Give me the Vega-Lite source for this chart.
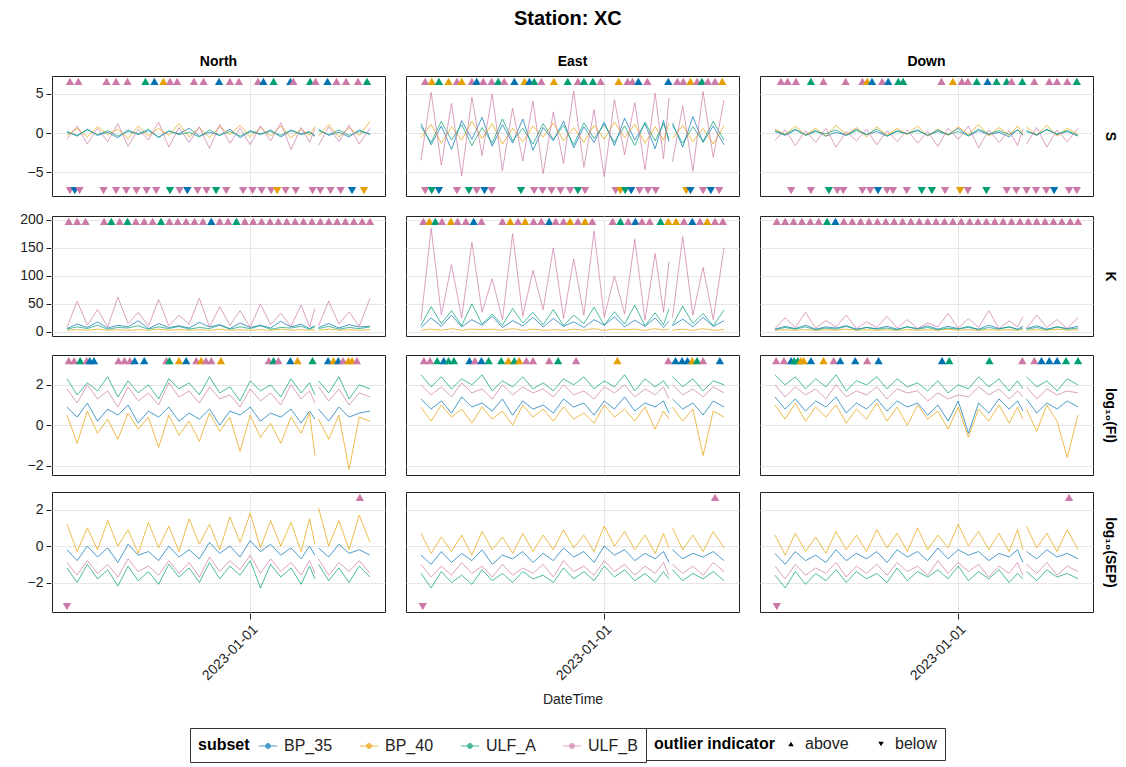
{
"$schema": "https://vega.github.io/schema/vega-lite/v6.json",
"padding": {"left": 19, "top": 9, "right": 6, "bottom": 1},
"title": {"text": "Station: XC", "fontSize": 20, "fontWeight": "bold", "anchor": "middle", "offset": 26, "color": "#000"},
"datasets": {
"S": [
{"c":"North","t":"2022-03-01","BP_35":0.2,"BP_40":-0.3,"ULF_A":0.1,"ULF_B":-0.8},
{"c":"North","t":"2022-03-18","BP_35":-0.4,"BP_40":0.6,"ULF_A":-0.3,"ULF_B":0.9},
{"c":"North","t":"2022-04-04","BP_35":0.5,"BP_40":-0.5,"ULF_A":0.4,"ULF_B":-1.4},
{"c":"North","t":"2022-04-21","BP_35":-0.3,"BP_40":0.8,"ULF_A":-0.2,"ULF_B":0.6},
{"c":"North","t":"2022-05-08","BP_35":0.1,"BP_40":-0.2,"ULF_A":0.3,"ULF_B":-1.1},
{"c":"North","t":"2022-05-25","BP_35":-0.6,"BP_40":0.5,"ULF_A":-0.4,"ULF_B":1.2},
{"c":"North","t":"2022-06-11","BP_35":0.4,"BP_40":-0.7,"ULF_A":0.2,"ULF_B":-1.7},
{"c":"North","t":"2022-06-28","BP_35":-0.2,"BP_40":0.9,"ULF_A":-0.1,"ULF_B":0.5},
{"c":"North","t":"2022-07-15","BP_35":0.3,"BP_40":-0.4,"ULF_A":0.5,"ULF_B":-0.9},
{"c":"North","t":"2022-08-01","BP_35":-0.5,"BP_40":0.6,"ULF_A":-0.6,"ULF_B":1.4},
{"c":"North","t":"2022-08-18","BP_35":0.2,"BP_40":-0.3,"ULF_A":0.3,"ULF_B":-1.8},
{"c":"North","t":"2022-09-04","BP_35":-0.1,"BP_40":1.2,"ULF_A":-0.2,"ULF_B":0.7},
{"c":"North","t":"2022-09-21","BP_35":0.6,"BP_40":-0.5,"ULF_A":0.1,"ULF_B":-1.2},
{"c":"North","t":"2022-10-08","BP_35":-0.4,"BP_40":0.7,"ULF_A":-0.5,"ULF_B":0.8},
{"c":"North","t":"2022-10-25","BP_35":0.1,"BP_40":-0.6,"ULF_A":0.4,"ULF_B":-2.0},
{"c":"North","t":"2022-11-11","BP_35":-0.3,"BP_40":0.8,"ULF_A":-0.3,"ULF_B":1.1},
{"c":"North","t":"2022-11-28","BP_35":0.5,"BP_40":-0.2,"ULF_A":0.2,"ULF_B":-1.3},
{"c":"North","t":"2022-12-15","BP_35":-0.6,"BP_40":1.0,"ULF_A":-0.4,"ULF_B":0.6},
{"c":"North","t":"2023-01-01","BP_35":0.2,"BP_40":-0.5,"ULF_A":0.3,"ULF_B":-1.5},
{"c":"North","t":"2023-01-18","BP_35":-0.2,"BP_40":0.7,"ULF_A":-0.1,"ULF_B":0.9},
{"c":"North","t":"2023-02-04","BP_35":0.4,"BP_40":-0.4,"ULF_A":0.2,"ULF_B":-1.0},
{"c":"North","t":"2023-02-21","BP_35":-0.5,"BP_40":0.9,"ULF_A":-0.3,"ULF_B":1.3},
{"c":"North","t":"2023-03-10","BP_35":0.3,"BP_40":-0.6,"ULF_A":0.4,"ULF_B":-2.1},
{"c":"North","t":"2023-03-27","BP_35":-0.1,"BP_40":0.5,"ULF_A":-0.2,"ULF_B":0.7},
{"c":"North","t":"2023-04-10","BP_35":0.2,"BP_40":-0.3,"ULF_A":0.1,"ULF_B":-1.2},
{"c":"North","t":"2023-04-19","BP_35":-0.4,"BP_40":0.8,"ULF_A":-0.4,"ULF_B":0.5},
{"c":"North","t":"2023-04-22","BP_35":null,"BP_40":null,"ULF_A":null,"ULF_B":null},
{"c":"North","t":"2023-04-25","BP_35":0.5,"BP_40":-0.4,"ULF_A":0.3,"ULF_B":-1.6},
{"c":"North","t":"2023-05-12","BP_35":-0.3,"BP_40":1.1,"ULF_A":-0.2,"ULF_B":0.8},
{"c":"North","t":"2023-05-29","BP_35":0.1,"BP_40":-0.5,"ULF_A":0.4,"ULF_B":-1.1},
{"c":"North","t":"2023-06-15","BP_35":-0.5,"BP_40":0.7,"ULF_A":-0.3,"ULF_B":1.0},
{"c":"North","t":"2023-07-02","BP_35":0.4,"BP_40":-0.3,"ULF_A":0.2,"ULF_B":-1.4},
{"c":"North","t":"2023-07-20","BP_35":-0.2,"BP_40":1.5,"ULF_A":-0.1,"ULF_B":0.6},
{"c":"East","t":"2022-03-01","BP_35":1.2,"BP_40":-0.6,"ULF_A":0.8,"ULF_B":-3.5},
{"c":"East","t":"2022-03-18","BP_35":-1.5,"BP_40":1.1,"ULF_A":-1.2,"ULF_B":5.2},
{"c":"East","t":"2022-04-04","BP_35":0.9,"BP_40":-1.3,"ULF_A":1.5,"ULF_B":-4.1},
{"c":"East","t":"2022-04-21","BP_35":-2.1,"BP_40":0.8,"ULF_A":-0.9,"ULF_B":3.8},
{"c":"East","t":"2022-05-08","BP_35":1.6,"BP_40":-0.9,"ULF_A":1.1,"ULF_B":-5.5},
{"c":"East","t":"2022-05-25","BP_35":-0.8,"BP_40":1.5,"ULF_A":-1.6,"ULF_B":4.6},
{"c":"East","t":"2022-06-11","BP_35":2.0,"BP_40":-0.7,"ULF_A":0.7,"ULF_B":-2.9},
{"c":"East","t":"2022-06-28","BP_35":-1.7,"BP_40":1.2,"ULF_A":-1.3,"ULF_B":5.0},
{"c":"East","t":"2022-07-15","BP_35":1.1,"BP_40":-1.4,"ULF_A":1.8,"ULF_B":-4.8},
{"c":"East","t":"2022-08-01","BP_35":-1.3,"BP_40":0.6,"ULF_A":-1.0,"ULF_B":3.2},
{"c":"East","t":"2022-08-18","BP_35":1.8,"BP_40":-1.1,"ULF_A":0.6,"ULF_B":-3.6},
{"c":"East","t":"2022-09-04","BP_35":-2.2,"BP_40":0.9,"ULF_A":-1.4,"ULF_B":4.1},
{"c":"East","t":"2022-09-21","BP_35":0.7,"BP_40":-0.5,"ULF_A":1.2,"ULF_B":-5.2},
{"c":"East","t":"2022-10-08","BP_35":-1.0,"BP_40":1.3,"ULF_A":-0.8,"ULF_B":2.7},
{"c":"East","t":"2022-10-25","BP_35":1.5,"BP_40":-1.0,"ULF_A":1.0,"ULF_B":-3.9},
{"c":"East","t":"2022-11-11","BP_35":-1.9,"BP_40":0.7,"ULF_A":-1.5,"ULF_B":5.4},
{"c":"East","t":"2022-11-28","BP_35":0.8,"BP_40":-1.2,"ULF_A":1.3,"ULF_B":-4.4},
{"c":"East","t":"2022-12-15","BP_35":-1.2,"BP_40":1.0,"ULF_A":-0.7,"ULF_B":3.0},
{"c":"East","t":"2023-01-01","BP_35":1.4,"BP_40":-0.8,"ULF_A":1.1,"ULF_B":-5.6},
{"c":"East","t":"2023-01-18","BP_35":-1.6,"BP_40":1.4,"ULF_A":-1.2,"ULF_B":4.3},
{"c":"East","t":"2023-02-04","BP_35":1.9,"BP_40":-0.6,"ULF_A":0.9,"ULF_B":-2.8},
{"c":"East","t":"2023-02-21","BP_35":-0.9,"BP_40":1.1,"ULF_A":-1.6,"ULF_B":3.9},
{"c":"East","t":"2023-03-10","BP_35":1.2,"BP_40":-1.3,"ULF_A":1.4,"ULF_B":-4.7},
{"c":"East","t":"2023-03-27","BP_35":-2.0,"BP_40":0.8,"ULF_A":-1.0,"ULF_B":5.1},
{"c":"East","t":"2023-04-10","BP_35":1.6,"BP_40":-0.9,"ULF_A":1.2,"ULF_B":-3.3},
{"c":"East","t":"2023-04-19","BP_35":-1.1,"BP_40":1.2,"ULF_A":-0.8,"ULF_B":4.5},
{"c":"East","t":"2023-04-22","BP_35":null,"BP_40":null,"ULF_A":null,"ULF_B":null},
{"c":"East","t":"2023-04-25","BP_35":1.3,"BP_40":-0.7,"ULF_A":1.0,"ULF_B":-3.7},
{"c":"East","t":"2023-05-12","BP_35":-1.8,"BP_40":1.0,"ULF_A":-1.3,"ULF_B":3.5},
{"c":"East","t":"2023-05-29","BP_35":2.1,"BP_40":-1.1,"ULF_A":0.8,"ULF_B":-4.9},
{"c":"East","t":"2023-06-15","BP_35":-1.2,"BP_40":0.6,"ULF_A":-1.1,"ULF_B":5.3},
{"c":"East","t":"2023-07-02","BP_35":0.9,"BP_40":-1.4,"ULF_A":1.5,"ULF_B":-3.1},
{"c":"East","t":"2023-07-20","BP_35":-1.5,"BP_40":0.9,"ULF_A":-0.9,"ULF_B":4.2},
{"c":"Down","t":"2022-03-01","BP_35":0.2,"BP_40":0.5,"ULF_A":0.3,"ULF_B":-0.9},
{"c":"Down","t":"2022-03-18","BP_35":-0.3,"BP_40":-0.2,"ULF_A":-0.2,"ULF_B":0.4},
{"c":"Down","t":"2022-04-04","BP_35":0.4,"BP_40":0.9,"ULF_A":0.5,"ULF_B":-1.6},
{"c":"Down","t":"2022-04-21","BP_35":-0.2,"BP_40":-0.3,"ULF_A":-0.3,"ULF_B":0.3},
{"c":"Down","t":"2022-05-08","BP_35":0.3,"BP_40":0.6,"ULF_A":0.2,"ULF_B":-1.2},
{"c":"Down","t":"2022-05-25","BP_35":-0.4,"BP_40":-0.4,"ULF_A":-0.1,"ULF_B":0.6},
{"c":"Down","t":"2022-06-11","BP_35":0.1,"BP_40":1.0,"ULF_A":0.4,"ULF_B":-1.8},
{"c":"Down","t":"2022-06-28","BP_35":-0.3,"BP_40":-0.2,"ULF_A":-0.3,"ULF_B":0.2},
{"c":"Down","t":"2022-07-15","BP_35":0.5,"BP_40":0.7,"ULF_A":0.3,"ULF_B":-1.0},
{"c":"Down","t":"2022-08-01","BP_35":-0.2,"BP_40":-0.5,"ULF_A":-0.2,"ULF_B":0.5},
{"c":"Down","t":"2022-08-18","BP_35":0.2,"BP_40":0.8,"ULF_A":0.5,"ULF_B":-1.5},
{"c":"Down","t":"2022-09-04","BP_35":-0.4,"BP_40":-0.3,"ULF_A":-0.4,"ULF_B":0.3},
{"c":"Down","t":"2022-09-21","BP_35":0.3,"BP_40":0.6,"ULF_A":0.2,"ULF_B":-1.1},
{"c":"Down","t":"2022-10-08","BP_35":-0.1,"BP_40":-0.2,"ULF_A":-0.1,"ULF_B":0.4},
{"c":"Down","t":"2022-10-25","BP_35":0.4,"BP_40":0.9,"ULF_A":0.3,"ULF_B":-1.3},
{"c":"Down","t":"2022-11-11","BP_35":-0.3,"BP_40":-0.4,"ULF_A":-0.3,"ULF_B":0.2},
{"c":"Down","t":"2022-11-28","BP_35":0.2,"BP_40":0.5,"ULF_A":0.4,"ULF_B":-1.7},
{"c":"Down","t":"2022-12-15","BP_35":-0.2,"BP_40":-0.3,"ULF_A":-0.2,"ULF_B":0.6},
{"c":"Down","t":"2023-01-01","BP_35":0.6,"BP_40":0.8,"ULF_A":0.2,"ULF_B":-0.8},
{"c":"Down","t":"2023-01-18","BP_35":-0.4,"BP_40":-0.2,"ULF_A":-0.3,"ULF_B":0.9},
{"c":"Down","t":"2023-02-04","BP_35":0.3,"BP_40":1.1,"ULF_A":0.5,"ULF_B":-1.9},
{"c":"Down","t":"2023-02-21","BP_35":-0.2,"BP_40":-0.4,"ULF_A":-0.1,"ULF_B":0.4},
{"c":"Down","t":"2023-03-10","BP_35":0.1,"BP_40":0.7,"ULF_A":0.3,"ULF_B":-1.2},
{"c":"Down","t":"2023-03-27","BP_35":-0.5,"BP_40":-0.3,"ULF_A":-0.2,"ULF_B":0.3},
{"c":"Down","t":"2023-04-10","BP_35":0.4,"BP_40":0.9,"ULF_A":0.4,"ULF_B":-1.6},
{"c":"Down","t":"2023-04-19","BP_35":-0.2,"BP_40":-0.2,"ULF_A":-0.3,"ULF_B":0.5},
{"c":"Down","t":"2023-04-22","BP_35":null,"BP_40":null,"ULF_A":null,"ULF_B":null},
{"c":"Down","t":"2023-04-25","BP_35":0.3,"BP_40":0.8,"ULF_A":0.2,"ULF_B":-1.4},
{"c":"Down","t":"2023-05-12","BP_35":-0.3,"BP_40":-0.3,"ULF_A":-0.2,"ULF_B":0.7},
{"c":"Down","t":"2023-05-29","BP_35":0.5,"BP_40":1.0,"ULF_A":0.4,"ULF_B":-1.8},
{"c":"Down","t":"2023-06-15","BP_35":-0.2,"BP_40":-0.4,"ULF_A":-0.1,"ULF_B":0.4},
{"c":"Down","t":"2023-07-02","BP_35":0.2,"BP_40":0.6,"ULF_A":0.3,"ULF_B":-1.1},
{"c":"Down","t":"2023-07-20","BP_35":-0.4,"BP_40":-0.2,"ULF_A":-0.3,"ULF_B":0.6},
{"c":"North","t":"2022-03-06","s":"ULF_B","o":"above"},
{"c":"North","t":"2022-03-20","s":"ULF_B","o":"above"},
{"c":"North","t":"2022-05-06","s":"ULF_B","o":"above"},
{"c":"North","t":"2022-05-22","s":"ULF_B","o":"above"},
{"c":"North","t":"2022-06-10","s":"ULF_B","o":"above"},
{"c":"North","t":"2022-07-10","s":"ULF_A","o":"above"},
{"c":"North","t":"2022-07-25","s":"BP_35","o":"above"},
{"c":"North","t":"2022-08-09","s":"BP_40","o":"above"},
{"c":"North","t":"2022-08-20","s":"ULF_B","o":"above"},
{"c":"North","t":"2022-09-01","s":"ULF_B","o":"above"},
{"c":"North","t":"2022-09-29","s":"ULF_B","o":"above"},
{"c":"North","t":"2022-10-15","s":"ULF_B","o":"above"},
{"c":"North","t":"2022-11-10","s":"BP_35","o":"above"},
{"c":"North","t":"2022-11-28","s":"ULF_B","o":"above"},
{"c":"North","t":"2022-12-13","s":"ULF_B","o":"above"},
{"c":"North","t":"2023-01-14","s":"ULF_B","o":"above"},
{"c":"North","t":"2023-01-23","s":"BP_35","o":"above"},
{"c":"North","t":"2023-02-09","s":"ULF_A","o":"above"},
{"c":"North","t":"2023-03-09","s":"BP_35","o":"above"},
{"c":"North","t":"2023-03-14","s":"ULF_B","o":"above"},
{"c":"North","t":"2023-04-11","s":"ULF_A","o":"above"},
{"c":"North","t":"2023-04-20","s":"ULF_B","o":"above"},
{"c":"North","t":"2023-05-10","s":"BP_35","o":"above"},
{"c":"North","t":"2023-05-25","s":"ULF_B","o":"above"},
{"c":"North","t":"2023-06-10","s":"ULF_B","o":"above"},
{"c":"North","t":"2023-06-30","s":"ULF_B","o":"above"},
{"c":"North","t":"2023-07-15","s":"ULF_A","o":"above"},
{"c":"North","t":"2022-03-06","s":"ULF_B","o":"below"},
{"c":"North","t":"2022-03-14","s":"BP_35","o":"below"},
{"c":"North","t":"2022-03-22","s":"ULF_B","o":"below"},
{"c":"North","t":"2022-05-01","s":"ULF_B","o":"below"},
{"c":"North","t":"2022-05-22","s":"ULF_B","o":"below"},
{"c":"North","t":"2022-06-08","s":"ULF_B","o":"below"},
{"c":"North","t":"2022-06-25","s":"ULF_B","o":"below"},
{"c":"North","t":"2022-07-12","s":"ULF_B","o":"below"},
{"c":"North","t":"2022-07-28","s":"ULF_B","o":"below"},
{"c":"North","t":"2022-08-20","s":"ULF_A","o":"below"},
{"c":"North","t":"2022-09-05","s":"ULF_B","o":"below"},
{"c":"North","t":"2022-09-18","s":"BP_35","o":"below"},
{"c":"North","t":"2022-10-05","s":"ULF_B","o":"below"},
{"c":"North","t":"2022-10-20","s":"ULF_B","o":"below"},
{"c":"North","t":"2022-11-05","s":"ULF_A","o":"below"},
{"c":"North","t":"2022-11-22","s":"ULF_B","o":"below"},
{"c":"North","t":"2022-12-20","s":"ULF_B","o":"below"},
{"c":"North","t":"2023-01-05","s":"ULF_B","o":"below"},
{"c":"North","t":"2023-01-20","s":"ULF_B","o":"below"},
{"c":"North","t":"2023-02-05","s":"ULF_B","o":"below"},
{"c":"North","t":"2023-02-15","s":"BP_40","o":"below"},
{"c":"North","t":"2023-03-01","s":"ULF_B","o":"below"},
{"c":"North","t":"2023-03-18","s":"ULF_B","o":"below"},
{"c":"North","t":"2023-04-15","s":"ULF_B","o":"below"},
{"c":"North","t":"2023-04-28","s":"ULF_B","o":"below"},
{"c":"North","t":"2023-05-15","s":"ULF_B","o":"below"},
{"c":"North","t":"2023-06-01","s":"ULF_B","o":"below"},
{"c":"North","t":"2023-06-20","s":"BP_35","o":"below"},
{"c":"North","t":"2023-07-10","s":"BP_40","o":"below"},
{"c":"East","t":"2022-03-08","s":"ULF_B","o":"above"},
{"c":"East","t":"2022-03-19","s":"BP_40","o":"above"},
{"c":"East","t":"2022-03-31","s":"ULF_A","o":"above"},
{"c":"East","t":"2022-04-16","s":"BP_40","o":"above"},
{"c":"East","t":"2022-04-30","s":"ULF_B","o":"above"},
{"c":"East","t":"2022-05-08","s":"BP_40","o":"above"},
{"c":"East","t":"2022-05-25","s":"ULF_B","o":"above"},
{"c":"East","t":"2022-06-02","s":"BP_35","o":"above"},
{"c":"East","t":"2022-06-13","s":"ULF_B","o":"above"},
{"c":"East","t":"2022-06-27","s":"ULF_B","o":"above"},
{"c":"East","t":"2022-07-08","s":"ULF_A","o":"above"},
{"c":"East","t":"2022-07-18","s":"ULF_B","o":"above"},
{"c":"East","t":"2022-08-04","s":"BP_35","o":"above"},
{"c":"East","t":"2022-08-21","s":"BP_40","o":"above"},
{"c":"East","t":"2022-08-29","s":"BP_35","o":"above"},
{"c":"East","t":"2022-09-06","s":"ULF_A","o":"above"},
{"c":"East","t":"2022-09-18","s":"ULF_B","o":"above"},
{"c":"East","t":"2022-10-09","s":"BP_40","o":"above"},
{"c":"East","t":"2022-11-01","s":"ULF_A","o":"above"},
{"c":"East","t":"2022-11-18","s":"ULF_B","o":"above"},
{"c":"East","t":"2022-11-28","s":"ULF_A","o":"above"},
{"c":"East","t":"2022-12-13","s":"ULF_A","o":"above"},
{"c":"East","t":"2022-12-26","s":"ULF_B","o":"above"},
{"c":"East","t":"2023-01-25","s":"BP_40","o":"above"},
{"c":"East","t":"2023-02-09","s":"ULF_B","o":"above"},
{"c":"East","t":"2023-02-17","s":"ULF_B","o":"above"},
{"c":"East","t":"2023-02-27","s":"BP_35","o":"above"},
{"c":"East","t":"2023-03-14","s":"ULF_B","o":"above"},
{"c":"East","t":"2023-04-18","s":"BP_35","o":"above"},
{"c":"East","t":"2023-05-03","s":"ULF_B","o":"above"},
{"c":"East","t":"2023-05-13","s":"ULF_B","o":"above"},
{"c":"East","t":"2023-05-25","s":"BP_40","o":"above"},
{"c":"East","t":"2023-06-05","s":"ULF_B","o":"above"},
{"c":"East","t":"2023-06-13","s":"ULF_A","o":"above"},
{"c":"East","t":"2023-06-23","s":"ULF_B","o":"above"},
{"c":"East","t":"2023-07-05","s":"ULF_B","o":"above"},
{"c":"East","t":"2023-07-17","s":"BP_40","o":"above"},
{"c":"East","t":"2022-03-08","s":"ULF_B","o":"below"},
{"c":"East","t":"2022-03-19","s":"ULF_A","o":"below"},
{"c":"East","t":"2022-03-31","s":"BP_35","o":"below"},
{"c":"East","t":"2022-04-30","s":"ULF_B","o":"below"},
{"c":"East","t":"2022-05-20","s":"ULF_A","o":"below"},
{"c":"East","t":"2022-06-02","s":"ULF_B","o":"below"},
{"c":"East","t":"2022-06-15","s":"BP_35","o":"below"},
{"c":"East","t":"2022-06-27","s":"ULF_B","o":"below"},
{"c":"East","t":"2022-08-15","s":"ULF_A","o":"below"},
{"c":"East","t":"2022-09-06","s":"ULF_B","o":"below"},
{"c":"East","t":"2022-09-20","s":"ULF_B","o":"below"},
{"c":"East","t":"2022-10-05","s":"ULF_B","o":"below"},
{"c":"East","t":"2022-10-20","s":"ULF_B","o":"below"},
{"c":"East","t":"2022-11-05","s":"ULF_B","o":"below"},
{"c":"East","t":"2022-11-18","s":"ULF_A","o":"below"},
{"c":"East","t":"2022-11-30","s":"ULF_B","o":"below"},
{"c":"East","t":"2023-01-20","s":"ULF_B","o":"below"},
{"c":"East","t":"2023-01-28","s":"BP_40","o":"below"},
{"c":"East","t":"2023-02-05","s":"ULF_A","o":"below"},
{"c":"East","t":"2023-02-15","s":"BP_35","o":"below"},
{"c":"East","t":"2023-03-01","s":"ULF_B","o":"below"},
{"c":"East","t":"2023-03-15","s":"ULF_B","o":"below"},
{"c":"East","t":"2023-03-28","s":"ULF_B","o":"below"},
{"c":"East","t":"2023-05-18","s":"BP_40","o":"below"},
{"c":"East","t":"2023-05-25","s":"BP_35","o":"below"},
{"c":"East","t":"2023-06-15","s":"ULF_B","o":"below"},
{"c":"East","t":"2023-06-28","s":"BP_35","o":"below"},
{"c":"East","t":"2023-07-12","s":"ULF_B","o":"below"},
{"c":"Down","t":"2022-03-11","s":"ULF_B","o":"above"},
{"c":"Down","t":"2022-03-22","s":"ULF_B","o":"above"},
{"c":"Down","t":"2022-04-05","s":"ULF_B","o":"above"},
{"c":"Down","t":"2022-04-30","s":"ULF_A","o":"above"},
{"c":"Down","t":"2022-05-21","s":"ULF_B","o":"above"},
{"c":"Down","t":"2022-06-27","s":"ULF_B","o":"above"},
{"c":"Down","t":"2022-07-25","s":"ULF_B","o":"above"},
{"c":"Down","t":"2022-08-02","s":"BP_40","o":"above"},
{"c":"Down","t":"2022-08-10","s":"BP_35","o":"above"},
{"c":"Down","t":"2022-08-27","s":"ULF_B","o":"above"},
{"c":"Down","t":"2022-09-06","s":"BP_35","o":"above"},
{"c":"Down","t":"2022-09-23","s":"ULF_A","o":"above"},
{"c":"Down","t":"2022-10-01","s":"ULF_A","o":"above"},
{"c":"Down","t":"2022-12-04","s":"ULF_B","o":"above"},
{"c":"Down","t":"2022-12-23","s":"BP_40","o":"above"},
{"c":"Down","t":"2023-01-07","s":"ULF_B","o":"above"},
{"c":"Down","t":"2023-01-17","s":"ULF_B","o":"above"},
{"c":"Down","t":"2023-02-01","s":"ULF_A","o":"above"},
{"c":"Down","t":"2023-02-19","s":"BP_35","o":"above"},
{"c":"Down","t":"2023-03-06","s":"ULF_A","o":"above"},
{"c":"Down","t":"2023-03-23","s":"ULF_A","o":"above"},
{"c":"Down","t":"2023-03-31","s":"ULF_B","o":"above"},
{"c":"Down","t":"2023-04-18","s":"ULF_A","o":"above"},
{"c":"Down","t":"2023-05-08","s":"ULF_B","o":"above"},
{"c":"Down","t":"2023-06-02","s":"ULF_B","o":"above"},
{"c":"Down","t":"2023-06-15","s":"ULF_B","o":"above"},
{"c":"Down","t":"2023-07-02","s":"ULF_B","o":"above"},
{"c":"Down","t":"2023-07-18","s":"ULF_A","o":"above"},
{"c":"Down","t":"2022-03-28","s":"ULF_B","o":"below"},
{"c":"Down","t":"2022-04-30","s":"ULF_B","o":"below"},
{"c":"Down","t":"2022-05-30","s":"ULF_A","o":"below"},
{"c":"Down","t":"2022-06-13","s":"ULF_B","o":"below"},
{"c":"Down","t":"2022-06-23","s":"ULF_B","o":"below"},
{"c":"Down","t":"2022-07-25","s":"ULF_B","o":"below"},
{"c":"Down","t":"2022-08-07","s":"ULF_B","o":"below"},
{"c":"Down","t":"2022-08-20","s":"BP_35","o":"below"},
{"c":"Down","t":"2022-09-04","s":"ULF_B","o":"below"},
{"c":"Down","t":"2022-09-14","s":"ULF_B","o":"below"},
{"c":"Down","t":"2022-10-07","s":"ULF_B","o":"below"},
{"c":"Down","t":"2022-11-01","s":"ULF_A","o":"below"},
{"c":"Down","t":"2022-11-18","s":"ULF_A","o":"below"},
{"c":"Down","t":"2022-12-10","s":"ULF_B","o":"below"},
{"c":"Down","t":"2023-01-04","s":"BP_40","o":"below"},
{"c":"Down","t":"2023-01-17","s":"ULF_B","o":"below"},
{"c":"Down","t":"2023-02-17","s":"ULF_A","o":"below"},
{"c":"Down","t":"2023-03-23","s":"ULF_B","o":"below"},
{"c":"Down","t":"2023-04-08","s":"ULF_B","o":"below"},
{"c":"Down","t":"2023-04-25","s":"ULF_B","o":"below"},
{"c":"Down","t":"2023-05-11","s":"ULF_B","o":"below"},
{"c":"Down","t":"2023-05-28","s":"ULF_B","o":"below"},
{"c":"Down","t":"2023-06-10","s":"BP_35","o":"below"},
{"c":"Down","t":"2023-07-05","s":"ULF_B","o":"below"},
{"c":"Down","t":"2023-07-18","s":"ULF_B","o":"below"}
],
"K": [
{"c":"North","t":"2022-03-01","BP_35":6,"BP_40":3,"ULF_A":5,"ULF_B":8},
{"c":"North","t":"2022-03-18","BP_35":14,"BP_40":4,"ULF_A":9,"ULF_B":55},
{"c":"North","t":"2022-04-04","BP_35":8,"BP_40":3,"ULF_A":6,"ULF_B":12},
{"c":"North","t":"2022-04-21","BP_35":18,"BP_40":5,"ULF_A":12,"ULF_B":40},
{"c":"North","t":"2022-05-08","BP_35":7,"BP_40":3,"ULF_A":5,"ULF_B":9},
{"c":"North","t":"2022-05-25","BP_35":12,"BP_40":4,"ULF_A":8,"ULF_B":62},
{"c":"North","t":"2022-06-11","BP_35":9,"BP_40":3,"ULF_A":7,"ULF_B":15},
{"c":"North","t":"2022-06-28","BP_35":20,"BP_40":4,"ULF_A":11,"ULF_B":35},
{"c":"North","t":"2022-07-15","BP_35":6,"BP_40":3,"ULF_A":5,"ULF_B":10},
{"c":"North","t":"2022-08-01","BP_35":15,"BP_40":5,"ULF_A":9,"ULF_B":58},
{"c":"North","t":"2022-08-18","BP_35":8,"BP_40":3,"ULF_A":6,"ULF_B":11},
{"c":"North","t":"2022-09-04","BP_35":11,"BP_40":4,"ULF_A":10,"ULF_B":30},
{"c":"North","t":"2022-09-21","BP_35":7,"BP_40":3,"ULF_A":5,"ULF_B":14},
{"c":"North","t":"2022-10-08","BP_35":17,"BP_40":4,"ULF_A":8,"ULF_B":60},
{"c":"North","t":"2022-10-25","BP_35":9,"BP_40":3,"ULF_A":6,"ULF_B":9},
{"c":"North","t":"2022-11-11","BP_35":13,"BP_40":5,"ULF_A":12,"ULF_B":45},
{"c":"North","t":"2022-11-28","BP_35":6,"BP_40":3,"ULF_A":5,"ULF_B":12},
{"c":"North","t":"2022-12-15","BP_35":16,"BP_40":4,"ULF_A":9,"ULF_B":38},
{"c":"North","t":"2023-01-01","BP_35":8,"BP_40":3,"ULF_A":6,"ULF_B":8},
{"c":"North","t":"2023-01-18","BP_35":12,"BP_40":4,"ULF_A":11,"ULF_B":50},
{"c":"North","t":"2023-02-04","BP_35":7,"BP_40":3,"ULF_A":5,"ULF_B":13},
{"c":"North","t":"2023-02-21","BP_35":19,"BP_40":5,"ULF_A":8,"ULF_B":33},
{"c":"North","t":"2023-03-10","BP_35":9,"BP_40":3,"ULF_A":7,"ULF_B":10},
{"c":"North","t":"2023-03-27","BP_35":14,"BP_40":4,"ULF_A":10,"ULF_B":48},
{"c":"North","t":"2023-04-10","BP_35":6,"BP_40":3,"ULF_A":5,"ULF_B":9},
{"c":"North","t":"2023-04-19","BP_35":11,"BP_40":4,"ULF_A":9,"ULF_B":42},
{"c":"North","t":"2023-04-22","BP_35":null,"BP_40":null,"ULF_A":null,"ULF_B":null},
{"c":"North","t":"2023-04-25","BP_35":8,"BP_40":3,"ULF_A":6,"ULF_B":11},
{"c":"North","t":"2023-05-12","BP_35":15,"BP_40":5,"ULF_A":10,"ULF_B":55},
{"c":"North","t":"2023-05-29","BP_35":7,"BP_40":3,"ULF_A":5,"ULF_B":14},
{"c":"North","t":"2023-06-15","BP_35":13,"BP_40":4,"ULF_A":8,"ULF_B":36},
{"c":"North","t":"2023-07-02","BP_35":9,"BP_40":3,"ULF_A":6,"ULF_B":10},
{"c":"North","t":"2023-07-20","BP_35":10,"BP_40":4,"ULF_A":9,"ULF_B":60},
{"c":"East","t":"2022-03-01","BP_35":8,"BP_40":3,"ULF_A":12,"ULF_B":20},
{"c":"East","t":"2022-03-18","BP_35":25,"BP_40":5,"ULF_A":45,"ULF_B":185},
{"c":"East","t":"2022-04-04","BP_35":10,"BP_40":3,"ULF_A":15,"ULF_B":30},
{"c":"East","t":"2022-04-21","BP_35":30,"BP_40":6,"ULF_A":38,"ULF_B":120},
{"c":"East","t":"2022-05-08","BP_35":9,"BP_40":3,"ULF_A":11,"ULF_B":25},
{"c":"East","t":"2022-05-25","BP_35":22,"BP_40":5,"ULF_A":50,"ULF_B":160},
{"c":"East","t":"2022-06-11","BP_35":12,"BP_40":4,"ULF_A":14,"ULF_B":35},
{"c":"East","t":"2022-06-28","BP_35":28,"BP_40":5,"ULF_A":32,"ULF_B":95},
{"c":"East","t":"2022-07-15","BP_35":8,"BP_40":3,"ULF_A":12,"ULF_B":22},
{"c":"East","t":"2022-08-01","BP_35":20,"BP_40":6,"ULF_A":42,"ULF_B":175},
{"c":"East","t":"2022-08-18","BP_35":11,"BP_40":3,"ULF_A":16,"ULF_B":28},
{"c":"East","t":"2022-09-04","BP_35":26,"BP_40":5,"ULF_A":35,"ULF_B":110},
{"c":"East","t":"2022-09-21","BP_35":9,"BP_40":3,"ULF_A":13,"ULF_B":40},
{"c":"East","t":"2022-10-08","BP_35":24,"BP_40":4,"ULF_A":40,"ULF_B":150},
{"c":"East","t":"2022-10-25","BP_35":10,"BP_40":3,"ULF_A":11,"ULF_B":24},
{"c":"East","t":"2022-11-11","BP_35":18,"BP_40":5,"ULF_A":30,"ULF_B":130},
{"c":"East","t":"2022-11-28","BP_35":8,"BP_40":3,"ULF_A":15,"ULF_B":30},
{"c":"East","t":"2022-12-15","BP_35":22,"BP_40":6,"ULF_A":44,"ULF_B":180},
{"c":"East","t":"2023-01-01","BP_35":12,"BP_40":3,"ULF_A":12,"ULF_B":26},
{"c":"East","t":"2023-01-18","BP_35":27,"BP_40":5,"ULF_A":36,"ULF_B":100},
{"c":"East","t":"2023-02-04","BP_35":9,"BP_40":4,"ULF_A":14,"ULF_B":32},
{"c":"East","t":"2023-02-21","BP_35":21,"BP_40":5,"ULF_A":48,"ULF_B":165},
{"c":"East","t":"2023-03-10","BP_35":10,"BP_40":3,"ULF_A":11,"ULF_B":21},
{"c":"East","t":"2023-03-27","BP_35":25,"BP_40":6,"ULF_A":34,"ULF_B":140},
{"c":"East","t":"2023-04-10","BP_35":8,"BP_40":3,"ULF_A":13,"ULF_B":35},
{"c":"East","t":"2023-04-19","BP_35":19,"BP_40":5,"ULF_A":41,"ULF_B":125},
{"c":"East","t":"2023-04-22","BP_35":null,"BP_40":null,"ULF_A":null,"ULF_B":null},
{"c":"East","t":"2023-04-25","BP_35":11,"BP_40":3,"ULF_A":12,"ULF_B":25},
{"c":"East","t":"2023-05-12","BP_35":23,"BP_40":5,"ULF_A":46,"ULF_B":170},
{"c":"East","t":"2023-05-29","BP_35":9,"BP_40":3,"ULF_A":15,"ULF_B":30},
{"c":"East","t":"2023-06-15","BP_35":26,"BP_40":6,"ULF_A":33,"ULF_B":115},
{"c":"East","t":"2023-07-02","BP_35":10,"BP_40":3,"ULF_A":11,"ULF_B":22},
{"c":"East","t":"2023-07-20","BP_35":20,"BP_40":4,"ULF_A":39,"ULF_B":150},
{"c":"Down","t":"2022-03-01","BP_35":5,"BP_40":3,"ULF_A":4,"ULF_B":6},
{"c":"Down","t":"2022-03-18","BP_35":10,"BP_40":4,"ULF_A":8,"ULF_B":25},
{"c":"Down","t":"2022-04-04","BP_35":6,"BP_40":3,"ULF_A":5,"ULF_B":8},
{"c":"Down","t":"2022-04-21","BP_35":12,"BP_40":4,"ULF_A":9,"ULF_B":35},
{"c":"Down","t":"2022-05-08","BP_35":5,"BP_40":3,"ULF_A":4,"ULF_B":7},
{"c":"Down","t":"2022-05-25","BP_35":9,"BP_40":4,"ULF_A":7,"ULF_B":20},
{"c":"Down","t":"2022-06-11","BP_35":7,"BP_40":3,"ULF_A":5,"ULF_B":9},
{"c":"Down","t":"2022-06-28","BP_35":11,"BP_40":5,"ULF_A":10,"ULF_B":30},
{"c":"Down","t":"2022-07-15","BP_35":5,"BP_40":3,"ULF_A":4,"ULF_B":6},
{"c":"Down","t":"2022-08-01","BP_35":8,"BP_40":4,"ULF_A":8,"ULF_B":18},
{"c":"Down","t":"2022-08-18","BP_35":6,"BP_40":3,"ULF_A":5,"ULF_B":8},
{"c":"Down","t":"2022-09-04","BP_35":10,"BP_40":4,"ULF_A":7,"ULF_B":28},
{"c":"Down","t":"2022-09-21","BP_35":5,"BP_40":3,"ULF_A":4,"ULF_B":7},
{"c":"Down","t":"2022-10-08","BP_35":9,"BP_40":4,"ULF_A":9,"ULF_B":22},
{"c":"Down","t":"2022-10-25","BP_35":6,"BP_40":3,"ULF_A":5,"ULF_B":6},
{"c":"Down","t":"2022-11-11","BP_35":11,"BP_40":4,"ULF_A":8,"ULF_B":16},
{"c":"Down","t":"2022-11-28","BP_35":5,"BP_40":3,"ULF_A":4,"ULF_B":9},
{"c":"Down","t":"2022-12-15","BP_35":10,"BP_40":5,"ULF_A":7,"ULF_B":33},
{"c":"Down","t":"2023-01-01","BP_35":6,"BP_40":3,"ULF_A":5,"ULF_B":7},
{"c":"Down","t":"2023-01-18","BP_35":8,"BP_40":4,"ULF_A":10,"ULF_B":24},
{"c":"Down","t":"2023-02-04","BP_35":5,"BP_40":3,"ULF_A":4,"ULF_B":8},
{"c":"Down","t":"2023-02-21","BP_35":12,"BP_40":4,"ULF_A":8,"ULF_B":38},
{"c":"Down","t":"2023-03-10","BP_35":6,"BP_40":3,"ULF_A":5,"ULF_B":6},
{"c":"Down","t":"2023-03-27","BP_35":9,"BP_40":4,"ULF_A":9,"ULF_B":20},
{"c":"Down","t":"2023-04-10","BP_35":5,"BP_40":3,"ULF_A":4,"ULF_B":9},
{"c":"Down","t":"2023-04-19","BP_35":10,"BP_40":4,"ULF_A":7,"ULF_B":27},
{"c":"Down","t":"2023-04-22","BP_35":null,"BP_40":null,"ULF_A":null,"ULF_B":null},
{"c":"Down","t":"2023-04-25","BP_35":6,"BP_40":3,"ULF_A":5,"ULF_B":7},
{"c":"Down","t":"2023-05-12","BP_35":11,"BP_40":4,"ULF_A":8,"ULF_B":30},
{"c":"Down","t":"2023-05-29","BP_35":5,"BP_40":3,"ULF_A":4,"ULF_B":8},
{"c":"Down","t":"2023-06-15","BP_35":9,"BP_40":5,"ULF_A":9,"ULF_B":22},
{"c":"Down","t":"2023-07-02","BP_35":6,"BP_40":3,"ULF_A":5,"ULF_B":6},
{"c":"Down","t":"2023-07-20","BP_35":10,"BP_40":4,"ULF_A":7,"ULF_B":26},
{"c":"North","t":"2022-03-04","s":"ULF_B","o":"above"},
{"c":"North","t":"2022-03-18","s":"ULF_B","o":"above"},
{"c":"North","t":"2022-04-01","s":"ULF_B","o":"above"},
{"c":"North","t":"2022-05-02","s":"ULF_B","o":"above"},
{"c":"North","t":"2022-05-14","s":"ULF_A","o":"above"},
{"c":"North","t":"2022-05-28","s":"ULF_B","o":"above"},
{"c":"North","t":"2022-06-10","s":"ULF_A","o":"above"},
{"c":"North","t":"2022-06-24","s":"ULF_B","o":"above"},
{"c":"North","t":"2022-07-08","s":"ULF_B","o":"above"},
{"c":"North","t":"2022-07-22","s":"ULF_B","o":"above"},
{"c":"North","t":"2022-08-05","s":"ULF_A","o":"above"},
{"c":"North","t":"2022-08-19","s":"ULF_B","o":"above"},
{"c":"North","t":"2022-09-02","s":"ULF_B","o":"above"},
{"c":"North","t":"2022-09-16","s":"ULF_B","o":"above"},
{"c":"North","t":"2022-09-30","s":"ULF_B","o":"above"},
{"c":"North","t":"2022-10-14","s":"ULF_B","o":"above"},
{"c":"North","t":"2022-10-28","s":"BP_35","o":"above"},
{"c":"North","t":"2022-11-11","s":"ULF_B","o":"above"},
{"c":"North","t":"2022-11-25","s":"ULF_B","o":"above"},
{"c":"North","t":"2022-12-09","s":"ULF_A","o":"above"},
{"c":"North","t":"2022-12-23","s":"ULF_B","o":"above"},
{"c":"North","t":"2023-01-06","s":"ULF_B","o":"above"},
{"c":"North","t":"2023-01-20","s":"ULF_B","o":"above"},
{"c":"North","t":"2023-02-03","s":"ULF_B","o":"above"},
{"c":"North","t":"2023-02-17","s":"ULF_B","o":"above"},
{"c":"North","t":"2023-03-03","s":"ULF_B","o":"above"},
{"c":"North","t":"2023-03-17","s":"ULF_B","o":"above"},
{"c":"North","t":"2023-03-31","s":"ULF_B","o":"above"},
{"c":"North","t":"2023-04-14","s":"ULF_B","o":"above"},
{"c":"North","t":"2023-04-28","s":"ULF_B","o":"above"},
{"c":"North","t":"2023-05-12","s":"ULF_B","o":"above"},
{"c":"North","t":"2023-05-26","s":"ULF_B","o":"above"},
{"c":"North","t":"2023-06-09","s":"ULF_B","o":"above"},
{"c":"North","t":"2023-06-23","s":"ULF_B","o":"above"},
{"c":"North","t":"2023-07-07","s":"ULF_B","o":"above"},
{"c":"North","t":"2023-07-20","s":"ULF_B","o":"above"},
{"c":"East","t":"2022-03-05","s":"ULF_B","o":"above"},
{"c":"East","t":"2022-03-15","s":"BP_40","o":"above"},
{"c":"East","t":"2022-03-25","s":"ULF_A","o":"above"},
{"c":"East","t":"2022-04-05","s":"ULF_B","o":"above"},
{"c":"East","t":"2022-04-20","s":"BP_40","o":"above"},
{"c":"East","t":"2022-05-01","s":"ULF_B","o":"above"},
{"c":"East","t":"2022-05-15","s":"ULF_B","o":"above"},
{"c":"East","t":"2022-05-28","s":"BP_35","o":"above"},
{"c":"East","t":"2022-06-10","s":"ULF_B","o":"above"},
{"c":"East","t":"2022-07-15","s":"ULF_B","o":"above"},
{"c":"East","t":"2022-07-28","s":"BP_40","o":"above"},
{"c":"East","t":"2022-08-10","s":"ULF_B","o":"above"},
{"c":"East","t":"2022-08-22","s":"BP_40","o":"above"},
{"c":"East","t":"2022-09-05","s":"ULF_B","o":"above"},
{"c":"East","t":"2022-09-18","s":"ULF_B","o":"above"},
{"c":"East","t":"2022-10-01","s":"BP_35","o":"above"},
{"c":"East","t":"2022-10-12","s":"ULF_B","o":"above"},
{"c":"East","t":"2022-10-25","s":"ULF_B","o":"above"},
{"c":"East","t":"2022-11-05","s":"BP_40","o":"above"},
{"c":"East","t":"2022-11-18","s":"ULF_B","o":"above"},
{"c":"East","t":"2022-11-30","s":"BP_40","o":"above"},
{"c":"East","t":"2022-12-12","s":"ULF_B","o":"above"},
{"c":"East","t":"2023-01-15","s":"ULF_B","o":"above"},
{"c":"East","t":"2023-01-28","s":"ULF_A","o":"above"},
{"c":"East","t":"2023-02-10","s":"ULF_B","o":"above"},
{"c":"East","t":"2023-02-22","s":"BP_35","o":"above"},
{"c":"East","t":"2023-03-05","s":"ULF_B","o":"above"},
{"c":"East","t":"2023-03-18","s":"ULF_B","o":"above"},
{"c":"East","t":"2023-04-05","s":"ULF_A","o":"above"},
{"c":"East","t":"2023-04-18","s":"BP_40","o":"above"},
{"c":"East","t":"2023-05-01","s":"BP_40","o":"above"},
{"c":"East","t":"2023-05-14","s":"ULF_B","o":"above"},
{"c":"East","t":"2023-05-28","s":"BP_35","o":"above"},
{"c":"East","t":"2023-06-10","s":"ULF_B","o":"above"},
{"c":"East","t":"2023-06-22","s":"BP_40","o":"above"},
{"c":"East","t":"2023-07-05","s":"ULF_B","o":"above"},
{"c":"East","t":"2023-07-18","s":"ULF_B","o":"above"},
{"c":"Down","t":"2022-03-04","s":"ULF_B","o":"above"},
{"c":"Down","t":"2022-03-18","s":"ULF_B","o":"above"},
{"c":"Down","t":"2022-04-01","s":"ULF_B","o":"above"},
{"c":"Down","t":"2022-04-15","s":"ULF_B","o":"above"},
{"c":"Down","t":"2022-04-29","s":"ULF_B","o":"above"},
{"c":"Down","t":"2022-05-13","s":"ULF_B","o":"above"},
{"c":"Down","t":"2022-05-27","s":"ULF_A","o":"above"},
{"c":"Down","t":"2022-06-10","s":"BP_35","o":"above"},
{"c":"Down","t":"2022-06-24","s":"ULF_B","o":"above"},
{"c":"Down","t":"2022-07-08","s":"ULF_B","o":"above"},
{"c":"Down","t":"2022-07-22","s":"ULF_B","o":"above"},
{"c":"Down","t":"2022-08-05","s":"ULF_B","o":"above"},
{"c":"Down","t":"2022-08-19","s":"ULF_B","o":"above"},
{"c":"Down","t":"2022-09-02","s":"ULF_B","o":"above"},
{"c":"Down","t":"2022-09-16","s":"ULF_B","o":"above"},
{"c":"Down","t":"2022-09-30","s":"ULF_B","o":"above"},
{"c":"Down","t":"2022-10-14","s":"ULF_B","o":"above"},
{"c":"Down","t":"2022-10-28","s":"ULF_B","o":"above"},
{"c":"Down","t":"2022-11-11","s":"ULF_B","o":"above"},
{"c":"Down","t":"2022-11-25","s":"ULF_B","o":"above"},
{"c":"Down","t":"2022-12-09","s":"ULF_B","o":"above"},
{"c":"Down","t":"2022-12-23","s":"ULF_B","o":"above"},
{"c":"Down","t":"2023-01-06","s":"ULF_B","o":"above"},
{"c":"Down","t":"2023-01-20","s":"ULF_B","o":"above"},
{"c":"Down","t":"2023-02-03","s":"ULF_B","o":"above"},
{"c":"Down","t":"2023-02-17","s":"ULF_B","o":"above"},
{"c":"Down","t":"2023-03-03","s":"ULF_B","o":"above"},
{"c":"Down","t":"2023-03-17","s":"ULF_B","o":"above"},
{"c":"Down","t":"2023-03-31","s":"ULF_B","o":"above"},
{"c":"Down","t":"2023-04-14","s":"ULF_B","o":"above"},
{"c":"Down","t":"2023-04-28","s":"ULF_B","o":"above"},
{"c":"Down","t":"2023-05-12","s":"ULF_B","o":"above"},
{"c":"Down","t":"2023-05-26","s":"ULF_B","o":"above"},
{"c":"Down","t":"2023-06-09","s":"ULF_B","o":"above"},
{"c":"Down","t":"2023-06-23","s":"ULF_B","o":"above"},
{"c":"Down","t":"2023-07-07","s":"ULF_B","o":"above"},
{"c":"Down","t":"2023-07-20","s":"ULF_B","o":"above"}
],
"FI": [
{"c":"North","t":"2022-03-01","BP_35":0.9,"BP_40":0.5,"ULF_A":2.3,"ULF_B":1.8},
{"c":"North","t":"2022-03-18","BP_35":0.4,"BP_40":-0.9,"ULF_A":1.5,"ULF_B":1.1},
{"c":"North","t":"2022-04-04","BP_35":1.1,"BP_40":0.7,"ULF_A":2.1,"ULF_B":2.0},
{"c":"North","t":"2022-04-21","BP_35":0.2,"BP_40":-0.4,"ULF_A":1.7,"ULF_B":1.3},
{"c":"North","t":"2022-05-08","BP_35":0.8,"BP_40":0.3,"ULF_A":2.4,"ULF_B":1.7},
{"c":"North","t":"2022-05-25","BP_35":0.5,"BP_40":-0.7,"ULF_A":1.4,"ULF_B":0.9},
{"c":"North","t":"2022-06-11","BP_35":1.0,"BP_40":0.6,"ULF_A":2.2,"ULF_B":1.9},
{"c":"North","t":"2022-06-28","BP_35":0.1,"BP_40":-0.2,"ULF_A":1.6,"ULF_B":1.2},
{"c":"North","t":"2022-07-15","BP_35":0.7,"BP_40":0.4,"ULF_A":2.0,"ULF_B":1.6},
{"c":"North","t":"2022-08-01","BP_35":0.4,"BP_40":-1.1,"ULF_A":1.3,"ULF_B":1.0},
{"c":"North","t":"2022-08-18","BP_35":0.9,"BP_40":0.5,"ULF_A":2.3,"ULF_B":2.1},
{"c":"North","t":"2022-09-04","BP_35":0.2,"BP_40":-0.5,"ULF_A":1.8,"ULF_B":1.4},
{"c":"North","t":"2022-09-21","BP_35":0.6,"BP_40":0.2,"ULF_A":2.1,"ULF_B":1.7},
{"c":"North","t":"2022-10-08","BP_35":0.3,"BP_40":-0.8,"ULF_A":1.5,"ULF_B":1.1},
{"c":"North","t":"2022-10-25","BP_35":0.8,"BP_40":0.6,"ULF_A":2.4,"ULF_B":1.9},
{"c":"North","t":"2022-11-11","BP_35":0.0,"BP_40":-0.3,"ULF_A":1.6,"ULF_B":1.3},
{"c":"North","t":"2022-11-28","BP_35":0.7,"BP_40":0.4,"ULF_A":1.9,"ULF_B":1.5},
{"c":"North","t":"2022-12-15","BP_35":0.5,"BP_40":-1.3,"ULF_A":1.2,"ULF_B":0.9},
{"c":"North","t":"2023-01-01","BP_35":0.9,"BP_40":0.5,"ULF_A":2.2,"ULF_B":1.8},
{"c":"North","t":"2023-01-18","BP_35":0.2,"BP_40":-0.6,"ULF_A":1.7,"ULF_B":1.2},
{"c":"North","t":"2023-02-04","BP_35":0.6,"BP_40":0.1,"ULF_A":2.0,"ULF_B":1.6},
{"c":"North","t":"2023-02-21","BP_35":0.4,"BP_40":-0.9,"ULF_A":1.4,"ULF_B":1.0},
{"c":"North","t":"2023-03-10","BP_35":0.8,"BP_40":0.4,"ULF_A":2.3,"ULF_B":2.0},
{"c":"North","t":"2023-03-27","BP_35":0.1,"BP_40":-0.4,"ULF_A":1.6,"ULF_B":1.3},
{"c":"North","t":"2023-04-10","BP_35":0.7,"BP_40":0.6,"ULF_A":2.1,"ULF_B":1.7},
{"c":"North","t":"2023-04-19","BP_35":0.3,"BP_40":-1.5,"ULF_A":1.5,"ULF_B":1.1},
{"c":"North","t":"2023-04-22","BP_35":null,"BP_40":null,"ULF_A":null,"ULF_B":null},
{"c":"North","t":"2023-04-25","BP_35":0.8,"BP_40":0.3,"ULF_A":2.2,"ULF_B":1.9},
{"c":"North","t":"2023-05-12","BP_35":0.2,"BP_40":-0.7,"ULF_A":1.6,"ULF_B":1.2},
{"c":"North","t":"2023-05-29","BP_35":0.9,"BP_40":0.5,"ULF_A":2.4,"ULF_B":1.8},
{"c":"North","t":"2023-06-15","BP_35":0.4,"BP_40":-2.2,"ULF_A":1.3,"ULF_B":1.0},
{"c":"North","t":"2023-07-02","BP_35":0.6,"BP_40":0.4,"ULF_A":2.0,"ULF_B":1.6},
{"c":"North","t":"2023-07-20","BP_35":0.7,"BP_40":0.2,"ULF_A":1.8,"ULF_B":1.4},
{"c":"East","t":"2022-03-01","BP_35":1.3,"BP_40":0.9,"ULF_A":2.5,"ULF_B":2.0},
{"c":"East","t":"2022-03-18","BP_35":0.8,"BP_40":0.2,"ULF_A":1.9,"ULF_B":1.5},
{"c":"East","t":"2022-04-04","BP_35":1.2,"BP_40":1.0,"ULF_A":2.4,"ULF_B":1.9},
{"c":"East","t":"2022-04-21","BP_35":0.6,"BP_40":0.4,"ULF_A":1.8,"ULF_B":1.4},
{"c":"East","t":"2022-05-08","BP_35":1.4,"BP_40":0.8,"ULF_A":2.3,"ULF_B":2.1},
{"c":"East","t":"2022-05-25","BP_35":0.9,"BP_40":0.1,"ULF_A":2.0,"ULF_B":1.6},
{"c":"East","t":"2022-06-11","BP_35":1.1,"BP_40":0.9,"ULF_A":2.5,"ULF_B":1.8},
{"c":"East","t":"2022-06-28","BP_35":0.7,"BP_40":0.3,"ULF_A":1.7,"ULF_B":1.3},
{"c":"East","t":"2022-07-15","BP_35":1.3,"BP_40":0.7,"ULF_A":2.2,"ULF_B":2.0},
{"c":"East","t":"2022-08-01","BP_35":0.5,"BP_40":0.0,"ULF_A":1.9,"ULF_B":1.5},
{"c":"East","t":"2022-08-18","BP_35":1.2,"BP_40":1.0,"ULF_A":2.4,"ULF_B":1.9},
{"c":"East","t":"2022-09-04","BP_35":0.8,"BP_40":0.4,"ULF_A":1.8,"ULF_B":1.6},
{"c":"East","t":"2022-09-21","BP_35":1.0,"BP_40":0.8,"ULF_A":2.1,"ULF_B":1.8},
{"c":"East","t":"2022-10-08","BP_35":0.6,"BP_40":0.2,"ULF_A":1.7,"ULF_B":1.4},
{"c":"East","t":"2022-10-25","BP_35":1.3,"BP_40":0.9,"ULF_A":2.3,"ULF_B":2.0},
{"c":"East","t":"2022-11-11","BP_35":0.9,"BP_40":0.3,"ULF_A":2.0,"ULF_B":1.5},
{"c":"East","t":"2022-11-28","BP_35":1.1,"BP_40":0.6,"ULF_A":2.4,"ULF_B":1.7},
{"c":"East","t":"2022-12-15","BP_35":0.5,"BP_40":0.1,"ULF_A":1.8,"ULF_B":1.3},
{"c":"East","t":"2023-01-01","BP_35":1.2,"BP_40":1.0,"ULF_A":2.2,"ULF_B":1.9},
{"c":"East","t":"2023-01-18","BP_35":0.8,"BP_40":0.4,"ULF_A":1.9,"ULF_B":1.6},
{"c":"East","t":"2023-02-04","BP_35":1.4,"BP_40":0.8,"ULF_A":2.5,"ULF_B":2.0},
{"c":"East","t":"2023-02-21","BP_35":0.7,"BP_40":0.2,"ULF_A":1.7,"ULF_B":1.4},
{"c":"East","t":"2023-03-10","BP_35":1.1,"BP_40":0.9,"ULF_A":2.3,"ULF_B":1.8},
{"c":"East","t":"2023-03-27","BP_35":0.9,"BP_40":-0.2,"ULF_A":1.9,"ULF_B":1.5},
{"c":"East","t":"2023-04-10","BP_35":1.2,"BP_40":0.7,"ULF_A":2.2,"ULF_B":1.9},
{"c":"East","t":"2023-04-19","BP_35":0.6,"BP_40":0.3,"ULF_A":1.8,"ULF_B":1.3},
{"c":"East","t":"2023-04-22","BP_35":null,"BP_40":null,"ULF_A":null,"ULF_B":null},
{"c":"East","t":"2023-04-25","BP_35":1.3,"BP_40":0.9,"ULF_A":2.4,"ULF_B":2.0},
{"c":"East","t":"2023-05-12","BP_35":0.8,"BP_40":0.2,"ULF_A":1.9,"ULF_B":1.5},
{"c":"East","t":"2023-05-29","BP_35":1.1,"BP_40":0.8,"ULF_A":2.3,"ULF_B":1.8},
{"c":"East","t":"2023-06-15","BP_35":0.5,"BP_40":-1.5,"ULF_A":1.7,"ULF_B":1.4},
{"c":"East","t":"2023-07-02","BP_35":1.2,"BP_40":0.7,"ULF_A":2.2,"ULF_B":1.9},
{"c":"East","t":"2023-07-20","BP_35":0.9,"BP_40":0.4,"ULF_A":2.0,"ULF_B":1.6},
{"c":"Down","t":"2022-03-01","BP_35":1.4,"BP_40":1.0,"ULF_A":2.5,"ULF_B":2.0},
{"c":"Down","t":"2022-03-18","BP_35":0.8,"BP_40":0.3,"ULF_A":2.0,"ULF_B":1.4},
{"c":"Down","t":"2022-04-04","BP_35":1.3,"BP_40":1.1,"ULF_A":2.4,"ULF_B":1.9},
{"c":"Down","t":"2022-04-21","BP_35":0.7,"BP_40":0.2,"ULF_A":1.8,"ULF_B":1.5},
{"c":"Down","t":"2022-05-08","BP_35":1.2,"BP_40":0.9,"ULF_A":2.3,"ULF_B":1.8},
{"c":"Down","t":"2022-05-25","BP_35":0.9,"BP_40":0.4,"ULF_A":1.9,"ULF_B":1.3},
{"c":"Down","t":"2022-06-11","BP_35":1.4,"BP_40":1.0,"ULF_A":2.5,"ULF_B":2.0},
{"c":"Down","t":"2022-06-28","BP_35":0.6,"BP_40":0.1,"ULF_A":1.7,"ULF_B":1.4},
{"c":"Down","t":"2022-07-15","BP_35":1.1,"BP_40":0.8,"ULF_A":2.2,"ULF_B":1.7},
{"c":"Down","t":"2022-08-01","BP_35":0.8,"BP_40":0.3,"ULF_A":2.0,"ULF_B":1.5},
{"c":"Down","t":"2022-08-18","BP_35":1.3,"BP_40":1.1,"ULF_A":2.4,"ULF_B":1.9},
{"c":"Down","t":"2022-09-04","BP_35":0.7,"BP_40":0.2,"ULF_A":1.8,"ULF_B":1.3},
{"c":"Down","t":"2022-09-21","BP_35":1.2,"BP_40":0.9,"ULF_A":2.3,"ULF_B":1.8},
{"c":"Down","t":"2022-10-08","BP_35":0.9,"BP_40":0.0,"ULF_A":1.9,"ULF_B":1.6},
{"c":"Down","t":"2022-10-25","BP_35":1.1,"BP_40":1.0,"ULF_A":2.1,"ULF_B":1.7},
{"c":"Down","t":"2022-11-11","BP_35":0.5,"BP_40":0.3,"ULF_A":1.7,"ULF_B":1.2},
{"c":"Down","t":"2022-11-28","BP_35":1.0,"BP_40":0.7,"ULF_A":2.2,"ULF_B":1.6},
{"c":"Down","t":"2022-12-15","BP_35":0.2,"BP_40":-0.2,"ULF_A":1.6,"ULF_B":1.3},
{"c":"Down","t":"2023-01-01","BP_35":1.2,"BP_40":0.9,"ULF_A":2.0,"ULF_B":1.5},
{"c":"Down","t":"2023-01-18","BP_35":-0.4,"BP_40":-0.6,"ULF_A":1.8,"ULF_B":1.4},
{"c":"Down","t":"2023-02-04","BP_35":1.1,"BP_40":0.8,"ULF_A":2.4,"ULF_B":1.9},
{"c":"Down","t":"2023-02-21","BP_35":0.6,"BP_40":0.2,"ULF_A":1.9,"ULF_B":1.5},
{"c":"Down","t":"2023-03-10","BP_35":1.3,"BP_40":1.0,"ULF_A":2.3,"ULF_B":1.8},
{"c":"Down","t":"2023-03-27","BP_35":0.8,"BP_40":0.1,"ULF_A":1.7,"ULF_B":1.3},
{"c":"Down","t":"2023-04-10","BP_35":1.2,"BP_40":0.9,"ULF_A":2.2,"ULF_B":1.7},
{"c":"Down","t":"2023-04-19","BP_35":0.7,"BP_40":0.3,"ULF_A":1.8,"ULF_B":1.4},
{"c":"Down","t":"2023-04-22","BP_35":null,"BP_40":null,"ULF_A":null,"ULF_B":null},
{"c":"Down","t":"2023-04-25","BP_35":1.3,"BP_40":0.8,"ULF_A":2.4,"ULF_B":1.9},
{"c":"Down","t":"2023-05-12","BP_35":0.6,"BP_40":-0.3,"ULF_A":1.9,"ULF_B":1.3},
{"c":"Down","t":"2023-05-29","BP_35":1.1,"BP_40":1.0,"ULF_A":2.2,"ULF_B":1.8},
{"c":"Down","t":"2023-06-15","BP_35":0.8,"BP_40":0.2,"ULF_A":1.7,"ULF_B":1.5},
{"c":"Down","t":"2023-07-02","BP_35":1.2,"BP_40":-1.6,"ULF_A":2.3,"ULF_B":1.7},
{"c":"Down","t":"2023-07-20","BP_35":0.9,"BP_40":0.5,"ULF_A":2.0,"ULF_B":1.6},
{"c":"North","t":"2022-03-04","s":"ULF_B","o":"above"},
{"c":"North","t":"2022-03-13","s":"ULF_B","o":"above"},
{"c":"North","t":"2022-03-23","s":"ULF_A","o":"above"},
{"c":"North","t":"2022-04-03","s":"ULF_B","o":"above"},
{"c":"North","t":"2022-04-08","s":"BP_35","o":"above"},
{"c":"North","t":"2022-04-15","s":"BP_35","o":"above"},
{"c":"North","t":"2022-05-26","s":"ULF_B","o":"above"},
{"c":"North","t":"2022-06-05","s":"ULF_B","o":"above"},
{"c":"North","t":"2022-06-14","s":"ULF_B","o":"above"},
{"c":"North","t":"2022-06-22","s":"BP_35","o":"above"},
{"c":"North","t":"2022-07-08","s":"BP_35","o":"above"},
{"c":"North","t":"2022-08-14","s":"ULF_B","o":"above"},
{"c":"North","t":"2022-08-19","s":"ULF_A","o":"above"},
{"c":"North","t":"2022-09-04","s":"BP_40","o":"above"},
{"c":"North","t":"2022-09-16","s":"BP_35","o":"above"},
{"c":"North","t":"2022-10-03","s":"ULF_B","o":"above"},
{"c":"North","t":"2022-10-11","s":"BP_40","o":"above"},
{"c":"North","t":"2022-10-19","s":"ULF_B","o":"above"},
{"c":"North","t":"2022-10-28","s":"ULF_B","o":"above"},
{"c":"North","t":"2022-11-13","s":"BP_40","o":"above"},
{"c":"North","t":"2023-02-01","s":"ULF_B","o":"above"},
{"c":"North","t":"2023-02-09","s":"ULF_A","o":"above"},
{"c":"North","t":"2023-02-17","s":"ULF_B","o":"above"},
{"c":"North","t":"2023-03-09","s":"BP_35","o":"above"},
{"c":"North","t":"2023-03-21","s":"BP_40","o":"above"},
{"c":"North","t":"2023-04-15","s":"ULF_A","o":"above"},
{"c":"North","t":"2023-05-11","s":"BP_35","o":"above"},
{"c":"North","t":"2023-05-20","s":"BP_40","o":"above"},
{"c":"North","t":"2023-05-28","s":"BP_35","o":"above"},
{"c":"North","t":"2023-06-05","s":"ULF_B","o":"above"},
{"c":"North","t":"2023-06-14","s":"BP_40","o":"above"},
{"c":"North","t":"2023-06-20","s":"BP_40","o":"above"},
{"c":"North","t":"2023-06-28","s":"ULF_B","o":"above"},
{"c":"East","t":"2022-03-06","s":"ULF_B","o":"above"},
{"c":"East","t":"2022-03-16","s":"ULF_B","o":"above"},
{"c":"East","t":"2022-03-28","s":"ULF_A","o":"above"},
{"c":"East","t":"2022-04-08","s":"BP_35","o":"above"},
{"c":"East","t":"2022-04-16","s":"ULF_A","o":"above"},
{"c":"East","t":"2022-04-25","s":"ULF_A","o":"above"},
{"c":"East","t":"2022-05-21","s":"BP_35","o":"above"},
{"c":"East","t":"2022-05-30","s":"ULF_B","o":"above"},
{"c":"East","t":"2022-06-10","s":"BP_35","o":"above"},
{"c":"East","t":"2022-06-22","s":"ULF_A","o":"above"},
{"c":"East","t":"2022-07-13","s":"ULF_A","o":"above"},
{"c":"East","t":"2022-07-25","s":"BP_40","o":"above"},
{"c":"East","t":"2022-08-04","s":"ULF_A","o":"above"},
{"c":"East","t":"2022-08-12","s":"BP_40","o":"above"},
{"c":"East","t":"2022-08-24","s":"ULF_B","o":"above"},
{"c":"East","t":"2022-09-04","s":"ULF_B","o":"above"},
{"c":"East","t":"2022-10-01","s":"ULF_B","o":"above"},
{"c":"East","t":"2022-10-16","s":"ULF_A","o":"above"},
{"c":"East","t":"2022-11-15","s":"ULF_B","o":"above"},
{"c":"East","t":"2023-01-23","s":"BP_40","o":"above"},
{"c":"East","t":"2023-04-18","s":"ULF_B","o":"above"},
{"c":"East","t":"2023-04-30","s":"BP_35","o":"above"},
{"c":"East","t":"2023-05-11","s":"BP_35","o":"above"},
{"c":"East","t":"2023-05-20","s":"BP_35","o":"above"},
{"c":"East","t":"2023-05-28","s":"BP_40","o":"above"},
{"c":"East","t":"2023-06-05","s":"ULF_A","o":"above"},
{"c":"East","t":"2023-06-15","s":"ULF_B","o":"above"},
{"c":"East","t":"2023-07-13","s":"BP_35","o":"above"},
{"c":"Down","t":"2022-03-03","s":"ULF_B","o":"above"},
{"c":"Down","t":"2022-03-16","s":"ULF_B","o":"above"},
{"c":"Down","t":"2022-03-28","s":"BP_35","o":"above"},
{"c":"Down","t":"2022-04-02","s":"ULF_A","o":"above"},
{"c":"Down","t":"2022-04-08","s":"ULF_A","o":"above"},
{"c":"Down","t":"2022-04-13","s":"BP_40","o":"above"},
{"c":"Down","t":"2022-04-18","s":"BP_40","o":"above"},
{"c":"Down","t":"2022-04-30","s":"BP_35","o":"above"},
{"c":"Down","t":"2022-05-21","s":"BP_40","o":"above"},
{"c":"Down","t":"2022-06-07","s":"ULF_B","o":"above"},
{"c":"Down","t":"2022-06-18","s":"BP_35","o":"above"},
{"c":"Down","t":"2022-07-13","s":"BP_35","o":"above"},
{"c":"Down","t":"2022-08-02","s":"ULF_B","o":"above"},
{"c":"Down","t":"2022-08-21","s":"BP_35","o":"above"},
{"c":"Down","t":"2022-12-05","s":"BP_35","o":"above"},
{"c":"Down","t":"2022-12-17","s":"ULF_A","o":"above"},
{"c":"Down","t":"2023-02-22","s":"ULF_A","o":"above"},
{"c":"Down","t":"2023-04-18","s":"ULF_B","o":"above"},
{"c":"Down","t":"2023-05-08","s":"ULF_B","o":"above"},
{"c":"Down","t":"2023-05-20","s":"BP_35","o":"above"},
{"c":"Down","t":"2023-06-02","s":"BP_35","o":"above"},
{"c":"Down","t":"2023-06-15","s":"BP_35","o":"above"},
{"c":"Down","t":"2023-06-30","s":"ULF_A","o":"above"},
{"c":"Down","t":"2023-07-20","s":"ULF_A","o":"above"}
],
"SEP": [
{"c":"North","t":"2022-03-01","BP_35":-0.2,"BP_40":1.2,"ULF_A":-1.2,"ULF_B":-0.9},
{"c":"North","t":"2022-03-18","BP_35":-0.8,"BP_40":-0.3,"ULF_A":-2.0,"ULF_B":-1.6},
{"c":"North","t":"2022-04-04","BP_35":0.0,"BP_40":1.0,"ULF_A":-1.0,"ULF_B":-0.8},
{"c":"North","t":"2022-04-21","BP_35":-0.6,"BP_40":-0.2,"ULF_A":-1.8,"ULF_B":-1.5},
{"c":"North","t":"2022-05-08","BP_35":-0.1,"BP_40":1.4,"ULF_A":-1.3,"ULF_B":-1.0},
{"c":"North","t":"2022-05-25","BP_35":-0.9,"BP_40":0.0,"ULF_A":-2.2,"ULF_B":-1.7},
{"c":"North","t":"2022-06-11","BP_35":0.1,"BP_40":0.9,"ULF_A":-1.1,"ULF_B":-0.7},
{"c":"North","t":"2022-06-28","BP_35":-0.5,"BP_40":-0.4,"ULF_A":-1.9,"ULF_B":-1.4},
{"c":"North","t":"2022-07-15","BP_35":-0.3,"BP_40":1.3,"ULF_A":-1.4,"ULF_B":-1.1},
{"c":"North","t":"2022-08-01","BP_35":-0.8,"BP_40":-0.1,"ULF_A":-2.1,"ULF_B":-1.6},
{"c":"North","t":"2022-08-18","BP_35":0.0,"BP_40":1.1,"ULF_A":-1.0,"ULF_B":-0.8},
{"c":"North","t":"2022-09-04","BP_35":-0.6,"BP_40":-0.3,"ULF_A":-1.7,"ULF_B":-1.5},
{"c":"North","t":"2022-09-21","BP_35":-0.2,"BP_40":1.5,"ULF_A":-1.2,"ULF_B":-0.9},
{"c":"North","t":"2022-10-08","BP_35":-0.7,"BP_40":0.1,"ULF_A":-2.0,"ULF_B":-1.7},
{"c":"North","t":"2022-10-25","BP_35":0.2,"BP_40":1.2,"ULF_A":-0.9,"ULF_B":-0.6},
{"c":"North","t":"2022-11-11","BP_35":-0.4,"BP_40":-0.2,"ULF_A":-1.8,"ULF_B":-1.4},
{"c":"North","t":"2022-11-28","BP_35":0.0,"BP_40":1.6,"ULF_A":-1.1,"ULF_B":-0.8},
{"c":"North","t":"2022-12-15","BP_35":-0.6,"BP_40":0.2,"ULF_A":-1.6,"ULF_B":-1.3},
{"c":"North","t":"2023-01-01","BP_35":0.3,"BP_40":1.8,"ULF_A":-0.8,"ULF_B":-0.5},
{"c":"North","t":"2023-01-18","BP_35":-0.3,"BP_40":-0.1,"ULF_A":-2.3,"ULF_B":-1.5},
{"c":"North","t":"2023-02-04","BP_35":0.1,"BP_40":1.4,"ULF_A":-1.0,"ULF_B":-0.7},
{"c":"North","t":"2023-02-21","BP_35":-0.5,"BP_40":0.0,"ULF_A":-1.7,"ULF_B":-1.4},
{"c":"North","t":"2023-03-10","BP_35":-0.1,"BP_40":1.3,"ULF_A":-1.2,"ULF_B":-0.9},
{"c":"North","t":"2023-03-27","BP_35":-0.7,"BP_40":-0.3,"ULF_A":-2.1,"ULF_B":-1.6},
{"c":"North","t":"2023-04-10","BP_35":0.0,"BP_40":1.5,"ULF_A":-1.1,"ULF_B":-0.8},
{"c":"North","t":"2023-04-19","BP_35":-0.5,"BP_40":0.1,"ULF_A":-1.8,"ULF_B":-1.5},
{"c":"North","t":"2023-04-22","BP_35":null,"BP_40":null,"ULF_A":null,"ULF_B":null},
{"c":"North","t":"2023-04-25","BP_35":-0.1,"BP_40":2.1,"ULF_A":-1.0,"ULF_B":-0.7},
{"c":"North","t":"2023-05-12","BP_35":-0.6,"BP_40":0.0,"ULF_A":-1.9,"ULF_B":-1.6},
{"c":"North","t":"2023-05-29","BP_35":0.1,"BP_40":1.4,"ULF_A":-1.2,"ULF_B":-0.9},
{"c":"North","t":"2023-06-15","BP_35":-0.4,"BP_40":-0.2,"ULF_A":-2.0,"ULF_B":-1.4},
{"c":"North","t":"2023-07-02","BP_35":-0.2,"BP_40":1.7,"ULF_A":-1.1,"ULF_B":-0.8},
{"c":"North","t":"2023-07-20","BP_35":-0.5,"BP_40":0.2,"ULF_A":-1.7,"ULF_B":-1.5},
{"c":"East","t":"2022-03-01","BP_35":-0.5,"BP_40":0.7,"ULF_A":-1.5,"ULF_B":-1.0},
{"c":"East","t":"2022-03-18","BP_35":-1.0,"BP_40":-0.4,"ULF_A":-2.3,"ULF_B":-1.7},
{"c":"East","t":"2022-04-04","BP_35":-0.3,"BP_40":0.5,"ULF_A":-1.4,"ULF_B":-1.1},
{"c":"East","t":"2022-04-21","BP_35":-0.9,"BP_40":-0.3,"ULF_A":-2.0,"ULF_B":-1.6},
{"c":"East","t":"2022-05-08","BP_35":-0.4,"BP_40":0.6,"ULF_A":-1.6,"ULF_B":-0.9},
{"c":"East","t":"2022-05-25","BP_35":-0.8,"BP_40":-0.5,"ULF_A":-2.1,"ULF_B":-1.5},
{"c":"East","t":"2022-06-11","BP_35":-0.2,"BP_40":0.8,"ULF_A":-1.3,"ULF_B":-1.1},
{"c":"East","t":"2022-06-28","BP_35":-1.0,"BP_40":-0.2,"ULF_A":-1.9,"ULF_B":-1.7},
{"c":"East","t":"2022-07-15","BP_35":-0.5,"BP_40":0.5,"ULF_A":-1.5,"ULF_B":-1.0},
{"c":"East","t":"2022-08-01","BP_35":-0.7,"BP_40":-0.4,"ULF_A":-2.0,"ULF_B":-1.6},
{"c":"East","t":"2022-08-18","BP_35":-0.3,"BP_40":0.7,"ULF_A":-1.4,"ULF_B":-1.2},
{"c":"East","t":"2022-09-04","BP_35":-0.9,"BP_40":-0.3,"ULF_A":-1.8,"ULF_B":-1.5},
{"c":"East","t":"2022-09-21","BP_35":-0.4,"BP_40":0.6,"ULF_A":-1.6,"ULF_B":-1.0},
{"c":"East","t":"2022-10-08","BP_35":-0.8,"BP_40":-0.2,"ULF_A":-2.0,"ULF_B":-1.7},
{"c":"East","t":"2022-10-25","BP_35":-0.1,"BP_40":0.9,"ULF_A":-1.2,"ULF_B":-0.8},
{"c":"East","t":"2022-11-11","BP_35":-0.6,"BP_40":-0.1,"ULF_A":-1.8,"ULF_B":-1.4},
{"c":"East","t":"2022-11-28","BP_35":-0.3,"BP_40":0.6,"ULF_A":-1.4,"ULF_B":-1.1},
{"c":"East","t":"2022-12-15","BP_35":-0.9,"BP_40":-0.3,"ULF_A":-1.9,"ULF_B":-1.6},
{"c":"East","t":"2023-01-01","BP_35":0.0,"BP_40":1.1,"ULF_A":-1.1,"ULF_B":-0.8},
{"c":"East","t":"2023-01-18","BP_35":-0.5,"BP_40":0.0,"ULF_A":-1.7,"ULF_B":-1.4},
{"c":"East","t":"2023-02-04","BP_35":-0.2,"BP_40":0.8,"ULF_A":-1.3,"ULF_B":-1.0},
{"c":"East","t":"2023-02-21","BP_35":-0.8,"BP_40":-0.2,"ULF_A":-1.9,"ULF_B":-1.6},
{"c":"East","t":"2023-03-10","BP_35":-0.4,"BP_40":0.6,"ULF_A":-1.5,"ULF_B":-1.1},
{"c":"East","t":"2023-03-27","BP_35":-0.7,"BP_40":-0.4,"ULF_A":-2.0,"ULF_B":-1.5},
{"c":"East","t":"2023-04-10","BP_35":-0.3,"BP_40":0.7,"ULF_A":-1.4,"ULF_B":-0.9},
{"c":"East","t":"2023-04-19","BP_35":-0.9,"BP_40":-0.1,"ULF_A":-1.8,"ULF_B":-1.6},
{"c":"East","t":"2023-04-22","BP_35":null,"BP_40":null,"ULF_A":null,"ULF_B":null},
{"c":"East","t":"2023-04-25","BP_35":-0.2,"BP_40":1.0,"ULF_A":-1.3,"ULF_B":-1.0},
{"c":"East","t":"2023-05-12","BP_35":-0.7,"BP_40":-0.2,"ULF_A":-1.9,"ULF_B":-1.5},
{"c":"East","t":"2023-05-29","BP_35":-0.4,"BP_40":0.6,"ULF_A":-1.5,"ULF_B":-1.1},
{"c":"East","t":"2023-06-15","BP_35":-0.6,"BP_40":-0.3,"ULF_A":-1.8,"ULF_B":-1.6},
{"c":"East","t":"2023-07-02","BP_35":-0.3,"BP_40":0.8,"ULF_A":-1.4,"ULF_B":-0.9},
{"c":"East","t":"2023-07-20","BP_35":-0.8,"BP_40":-0.1,"ULF_A":-1.9,"ULF_B":-1.4},
{"c":"Down","t":"2022-03-01","BP_35":-0.4,"BP_40":0.6,"ULF_A":-1.6,"ULF_B":-1.1},
{"c":"Down","t":"2022-03-18","BP_35":-1.0,"BP_40":-0.5,"ULF_A":-2.3,"ULF_B":-1.8},
{"c":"Down","t":"2022-04-04","BP_35":-0.3,"BP_40":0.7,"ULF_A":-1.4,"ULF_B":-1.0},
{"c":"Down","t":"2022-04-21","BP_35":-0.8,"BP_40":-0.3,"ULF_A":-2.1,"ULF_B":-1.6},
{"c":"Down","t":"2022-05-08","BP_35":-0.5,"BP_40":0.5,"ULF_A":-1.5,"ULF_B":-1.2},
{"c":"Down","t":"2022-05-25","BP_35":-0.9,"BP_40":-0.4,"ULF_A":-1.9,"ULF_B":-1.5},
{"c":"Down","t":"2022-06-11","BP_35":-0.2,"BP_40":0.8,"ULF_A":-1.3,"ULF_B":-0.9},
{"c":"Down","t":"2022-06-28","BP_35":-0.8,"BP_40":-0.2,"ULF_A":-2.0,"ULF_B":-1.7},
{"c":"Down","t":"2022-07-15","BP_35":-0.4,"BP_40":0.6,"ULF_A":-1.4,"ULF_B":-1.1},
{"c":"Down","t":"2022-08-01","BP_35":-0.7,"BP_40":-0.3,"ULF_A":-1.8,"ULF_B":-1.5},
{"c":"Down","t":"2022-08-18","BP_35":-0.3,"BP_40":0.9,"ULF_A":-1.5,"ULF_B":-1.0},
{"c":"Down","t":"2022-09-04","BP_35":-0.9,"BP_40":-0.1,"ULF_A":-2.0,"ULF_B":-1.6},
{"c":"Down","t":"2022-09-21","BP_35":-0.2,"BP_40":0.7,"ULF_A":-1.2,"ULF_B":-0.9},
{"c":"Down","t":"2022-10-08","BP_35":-0.6,"BP_40":-0.3,"ULF_A":-1.9,"ULF_B":-1.4},
{"c":"Down","t":"2022-10-25","BP_35":-0.3,"BP_40":1.0,"ULF_A":-1.4,"ULF_B":-1.1},
{"c":"Down","t":"2022-11-11","BP_35":-0.8,"BP_40":-0.2,"ULF_A":-1.7,"ULF_B":-1.6},
{"c":"Down","t":"2022-11-28","BP_35":-0.1,"BP_40":0.6,"ULF_A":-1.3,"ULF_B":-0.8},
{"c":"Down","t":"2022-12-15","BP_35":-0.7,"BP_40":-0.1,"ULF_A":-1.8,"ULF_B":-1.5},
{"c":"Down","t":"2023-01-01","BP_35":-0.2,"BP_40":1.2,"ULF_A":-1.1,"ULF_B":-0.9},
{"c":"Down","t":"2023-01-18","BP_35":-0.5,"BP_40":0.0,"ULF_A":-1.9,"ULF_B":-1.4},
{"c":"Down","t":"2023-02-04","BP_35":-0.3,"BP_40":0.8,"ULF_A":-1.4,"ULF_B":-1.0},
{"c":"Down","t":"2023-02-21","BP_35":-0.8,"BP_40":-0.2,"ULF_A":-1.8,"ULF_B":-1.7},
{"c":"Down","t":"2023-03-10","BP_35":-0.4,"BP_40":0.7,"ULF_A":-1.3,"ULF_B":-1.1},
{"c":"Down","t":"2023-03-27","BP_35":-0.6,"BP_40":-0.3,"ULF_A":-2.0,"ULF_B":-1.5},
{"c":"Down","t":"2023-04-10","BP_35":-0.2,"BP_40":0.9,"ULF_A":-1.5,"ULF_B":-0.9},
{"c":"Down","t":"2023-04-19","BP_35":-0.9,"BP_40":-0.2,"ULF_A":-1.8,"ULF_B":-1.6},
{"c":"Down","t":"2023-04-22","BP_35":null,"BP_40":null,"ULF_A":null,"ULF_B":null},
{"c":"Down","t":"2023-04-25","BP_35":-0.3,"BP_40":1.1,"ULF_A":-1.4,"ULF_B":-1.0},
{"c":"Down","t":"2023-05-12","BP_35":-0.7,"BP_40":-0.1,"ULF_A":-1.9,"ULF_B":-1.5},
{"c":"Down","t":"2023-05-29","BP_35":-0.2,"BP_40":0.7,"ULF_A":-1.3,"ULF_B":-0.9},
{"c":"Down","t":"2023-06-15","BP_35":-0.6,"BP_40":-0.3,"ULF_A":-1.7,"ULF_B":-1.6},
{"c":"Down","t":"2023-07-02","BP_35":-0.4,"BP_40":0.9,"ULF_A":-1.5,"ULF_B":-1.1},
{"c":"Down","t":"2023-07-20","BP_35":-0.7,"BP_40":-0.2,"ULF_A":-1.8,"ULF_B":-1.4},
{"c":"North","t":"2023-07-03","s":"ULF_B","o":"above"},
{"c":"North","t":"2022-03-01","s":"ULF_B","o":"below"},
{"c":"East","t":"2023-07-05","s":"ULF_B","o":"above"},
{"c":"East","t":"2022-03-04","s":"ULF_B","o":"below"},
{"c":"Down","t":"2023-07-05","s":"ULF_B","o":"above"},
{"c":"Down","t":"2022-03-04","s":"ULF_B","o":"below"}
]
},
"spacing": 15,
"vconcat": [
{
"data": {"name": "S"},
"facet": {"column": {"field": "c", "type": "nominal", "sort": ["North", "East", "Down"], "title": null, "header": {"labelFontSize": 14, "labelFontWeight": "bold", "labelPadding": 6, "labelColor": "#000"}}},
"spacing": 19,
"spec": {
"width": 333, "height": 120,
"resolve": {"axis": {"y": "independent"}},
"layer": [
{"transform": [{"filter": "datum.o == null"}, {"fold": ["BP_35", "BP_40", "ULF_A", "ULF_B"], "as": ["s", "v"]}],
 "mark": {"type": "line", "strokeWidth": 1, "opacity": 0.7, "clip": true},
 "encoding": {
  "x": {"field": "t", "type": "temporal", "scale": {"type": "utc", "domain": [{"year": 2022, "month": 2, "date": 4, "utc": true}, {"year": 2023, "month": 8, "date": 14, "utc": true}]}, "axis": {"labels": false, "ticks": false, "title": null, "values": [{"year": 2023, "month": 1, "date": 1, "utc": true}]}},
  "y": {"field": "v", "type": "quantitative", "scale": {"domain": [-8.06, 7.3], "nice": false, "zero": false}, "axis": {"values": [-5, 0, 5], "title": null}},
  "color": {"field": "s", "type": "nominal", "title": "subset", "scale": {"domain": ["BP_35", "BP_40", "ULF_A", "ULF_B"], "range": ["#0072B2", "#E69F00", "#009E73", "#CC79A7"]},
   "legend": {"title": "subset", "symbolType": "M-1,0L1,0M0.28,0A0.28,0.28,0,1,1,-0.28,0A0.28,0.28,0,1,1,0.28,0Z", "symbolSize": 330, "symbolStrokeWidth": 1, "encode": {"symbols": {"update": {"fill": {"scale": "color", "field": "value"}, "stroke": {"scale": "color", "field": "value"}, "opacity": {"value": 1}}}}}}
 }},
{"transform": [{"filter": "datum.o == 'above'"}],
 "mark": {"type": "point", "filled": true, "size": 70, "opacity": 1},
 "encoding": {
  "x": {"field": "t", "type": "temporal"},
  "y": {"datum": 6.6, "axis": {"orient": "right", "title": "S", "labels": false, "ticks": false, "grid": false, "domain": false, "titleFontSize": 14, "titleFontWeight": "bold", "titleColor": "#000", "titlePadding": 8}},
  "color": {"field": "s", "type": "nominal"},
  "shape": {"field": "o", "type": "nominal", "title": "outlier indicator", "scale": {"domain": ["above", "below"], "range": ["triangle-up", "triangle-down"]},
   "legend": {"title": "outlier indicator", "symbolSize": 30, "encode": {"symbols": {"update": {"fill": {"value": "#000"}, "stroke": {"value": "#000"}, "opacity": {"value": 1}}}}}}
 }},
{"transform": [{"filter": "datum.o == 'below'"}],
 "mark": {"type": "point", "filled": true, "size": 70, "opacity": 1},
 "encoding": {
  "x": {"field": "t", "type": "temporal"},
  "y": {"datum": -7.36, "axis": null},
  "color": {"field": "s", "type": "nominal"},
  "shape": {"field": "o", "type": "nominal"}
 }}
]
}
},
{
"data": {"name": "K"},
"facet": {"column": {"field": "c", "type": "nominal", "sort": ["North", "East", "Down"], "title": null, "header": {"labels": false}}},
"spacing": 19,
"spec": {
"width": 333, "height": 120,
"resolve": {"axis": {"y": "independent"}},
"layer": [
{"transform": [{"filter": "datum.o == null"}, {"fold": ["BP_35", "BP_40", "ULF_A", "ULF_B"], "as": ["s", "v"]}],
 "mark": {"type": "line", "strokeWidth": 1, "opacity": 0.7, "clip": true},
 "encoding": {
  "x": {"field": "t", "type": "temporal", "scale": {"type": "utc", "domain": [{"year": 2022, "month": 2, "date": 4, "utc": true}, {"year": 2023, "month": 8, "date": 14, "utc": true}]}, "axis": {"labels": false, "ticks": false, "title": null, "values": [{"year": 2023, "month": 1, "date": 1, "utc": true}]}},
  "y": {"field": "v", "type": "quantitative", "scale": {"domain": [-7.2, 206.7], "nice": false, "zero": false}, "axis": {"values": [0, 50, 100, 150, 200], "title": null}},
  "color": {"field": "s", "type": "nominal"}
 }},
{"transform": [{"filter": "datum.o == 'above'"}],
 "mark": {"type": "point", "filled": true, "size": 70, "opacity": 1},
 "encoding": {
  "x": {"field": "t", "type": "temporal"},
  "y": {"datum": 197, "axis": {"orient": "right", "title": "K", "labels": false, "ticks": false, "grid": false, "domain": false, "titleFontSize": 14, "titleFontWeight": "bold", "titleColor": "#000", "titlePadding": 8}},
  "color": {"field": "s", "type": "nominal"},
  "shape": {"field": "o", "type": "nominal"}
 }}
]
}
},
{
"data": {"name": "FI"},
"facet": {"column": {"field": "c", "type": "nominal", "sort": ["North", "East", "Down"], "title": null, "header": {"labels": false}}},
"spacing": 19,
"spec": {
"width": 333, "height": 120,
"resolve": {"axis": {"y": "independent"}},
"layer": [
{"transform": [{"filter": "datum.o == null"}, {"fold": ["BP_35", "BP_40", "ULF_A", "ULF_B"], "as": ["s", "v"]}],
 "mark": {"type": "line", "strokeWidth": 1, "opacity": 0.7, "clip": true},
 "encoding": {
  "x": {"field": "t", "type": "temporal", "scale": {"type": "utc", "domain": [{"year": 2022, "month": 2, "date": 4, "utc": true}, {"year": 2023, "month": 8, "date": 14, "utc": true}]}, "axis": {"labels": false, "ticks": false, "title": null, "values": [{"year": 2023, "month": 1, "date": 1, "utc": true}]}},
  "y": {"field": "v", "type": "quantitative", "scale": {"domain": [-2.47, 3.48], "nice": false, "zero": false}, "axis": {"values": [-2, 0, 2], "title": null}},
  "color": {"field": "s", "type": "nominal"}
 }},
{"transform": [{"filter": "datum.o == 'above'"}],
 "mark": {"type": "point", "filled": true, "size": 70, "opacity": 1},
 "encoding": {
  "x": {"field": "t", "type": "temporal"},
  "y": {"datum": 3.2, "axis": {"orient": "right", "title": "log₁₀(FI)", "labels": false, "ticks": false, "grid": false, "domain": false, "titleFontSize": 14, "titleFontWeight": "bold", "titleColor": "#000", "titlePadding": 8}},
  "color": {"field": "s", "type": "nominal"},
  "shape": {"field": "o", "type": "nominal"}
 }}
]
}
},
{
"data": {"name": "SEP"},
"facet": {"column": {"field": "c", "type": "nominal", "sort": ["North", "East", "Down"], "title": "DateTime", "header": {"labels": false, "titleOrient": "bottom", "titleFontSize": 14, "titleFontWeight": "normal", "titleColor": "#222", "titlePadding": 0}}},
"spacing": 19,
"spec": {
"width": 333, "height": 120,
"resolve": {"axis": {"y": "independent"}},
"layer": [
{"transform": [{"filter": "datum.o == null"}, {"fold": ["BP_35", "BP_40", "ULF_A", "ULF_B"], "as": ["s", "v"]}],
 "mark": {"type": "line", "strokeWidth": 1, "opacity": 0.7, "clip": true},
 "encoding": {
  "x": {"field": "t", "type": "temporal", "scale": {"type": "utc", "domain": [{"year": 2022, "month": 2, "date": 4, "utc": true}, {"year": 2023, "month": 8, "date": 14, "utc": true}]}, "axis": {"title": null, "labelAngle": -45, "format": "%Y-%m-%d", "tickSize": 6, "values": [{"year": 2023, "month": 1, "date": 1, "utc": true}]}},
  "y": {"field": "v", "type": "quantitative", "scale": {"domain": [-3.62, 2.97], "nice": false, "zero": false}, "axis": {"values": [-2, 0, 2], "title": null}},
  "color": {"field": "s", "type": "nominal"}
 }},
{"transform": [{"filter": "datum.o == 'above'"}],
 "mark": {"type": "point", "filled": true, "size": 70, "opacity": 1},
 "encoding": {
  "x": {"field": "t", "type": "temporal"},
  "y": {"datum": 2.67, "axis": {"orient": "right", "title": "log₁₀(SEP)", "labels": false, "ticks": false, "grid": false, "domain": false, "titleFontSize": 14, "titleFontWeight": "bold", "titleColor": "#000", "titlePadding": 8}},
  "color": {"field": "s", "type": "nominal"},
  "shape": {"field": "o", "type": "nominal"}
 }},
{"transform": [{"filter": "datum.o == 'below'"}],
 "mark": {"type": "point", "filled": true, "size": 70, "opacity": 1},
 "encoding": {
  "x": {"field": "t", "type": "temporal"},
  "y": {"datum": -3.33, "axis": null},
  "color": {"field": "s", "type": "nominal"},
  "shape": {"field": "o", "type": "nominal"}
 }}
]
}
}
],
"config": {
"font": "Liberation Sans",
"view": {"stroke": "#222", "strokeWidth": 1},
"axis": {"labelFontSize": 14, "labelColor": "#222", "gridColor": "#e6e6e6", "tickColor": "#222", "domain": false, "tickSize": 5, "labelPadding": 3},
"header": {"labelFontSize": 14, "labelFontWeight": "bold"},
"legend": {"orient": "bottom", "direction": "horizontal", "titleOrient": "left", "titleFontSize": 16, "titleFontWeight": "bold", "titleColor": "#000", "titlePadding": 8, "labelFontSize": 16, "labelColor": "#222", "columnPadding": 24, "labelOffset": 6, "strokeColor": "#333", "padding": 8, "offset": 21, "layout": {"bottom": {"anchor": "middle", "margin": 0}}},
"title": {"font": "Liberation Sans"}
}
}
